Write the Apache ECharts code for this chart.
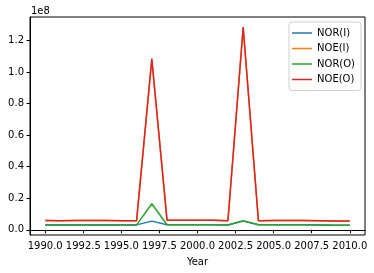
<!DOCTYPE html>
<html>
<head>
<meta charset="utf-8">
<script src="https://cdn.jsdelivr.net/npm/echarts@6/dist/echarts.min.js"></script>
<style>html,body{margin:0;padding:0;background:#fff}#c{width:374px;height:273px}</style>
</head>
<body>
<div id="c"></div>
<script>
const years = [1990,1991,1992,1993,1994,1995,1996,1997,1998,1999,2000,2001,2002,2003,2004,2005,2006,2007,2008,2009,2010];
const norI = [0.030,0.030,0.030,0.030,0.030,0.030,0.031,0.055,0.032,0.032,0.032,0.032,0.030,0.055,0.032,0.032,0.032,0.032,0.031,0.029,0.029];
const noeI = [0.059,0.058,0.059,0.059,0.059,0.058,0.058,1.075,0.060,0.060,0.060,0.060,0.057,1.280,0.058,0.059,0.059,0.059,0.058,0.055,0.055];
const norO = [0.030,0.030,0.030,0.030,0.030,0.030,0.031,0.165,0.032,0.032,0.032,0.032,0.030,0.057,0.032,0.032,0.032,0.032,0.031,0.029,0.029];
const noeO = [0.059,0.058,0.059,0.059,0.059,0.058,0.058,1.085,0.060,0.060,0.060,0.060,0.057,1.285,0.058,0.059,0.059,0.059,0.058,0.055,0.055];
const seriesNames = ['NOR(I)','NOE(I)','NOR(O)','NOE(O)'];
const colors = ['#1f77b4','#ff7f0e','#2ca02c','#d62728'];
const xTicks = [1990,1992.5,1995,1997.5,2000,2002.5,2005,2007.5,2010];
const yTicks = [0,0.2e8,0.4e8,0.6e8,0.8e8,1.0e8,1.2e8];
const scale = 1e8;

const font = 'DejaVu Sans';
const all = [norI,noeI,norO,noeO];
const chart = echarts.init(document.getElementById('c'), null, {renderer:'canvas'});
chart.setOption({
  animation:false,
  backgroundColor:'#fff',
  color:colors,
  textStyle:{fontFamily:font},
  grid:{left:30,right:9,top:17,bottom:38,show:true,borderColor:'#000',borderWidth:1,containLabel:false},
  graphic:[{type:'text',left:31,top:6,style:{text:'1e8',fontFamily:font,fontSize:10,fill:'#000'}}],
  legend:{
    orient:'vertical',right:13,top:22,
    data:seriesNames.map(n=>({name:n,icon:'rect'})),
    itemWidth:20,itemHeight:1.5,itemGap:3.5,
    padding:[5,6,5,3],
    borderColor:'#d0d0d0',borderWidth:1,borderRadius:3,
    backgroundColor:'rgba(255,255,255,0.8)',
    textStyle:{fontFamily:font,fontSize:10,color:'#000',lineHeight:12}
  },
  xAxis:{
    type:'value',min:1989,max:2011,
    name:'Year',nameLocation:'middle',nameGap:22,
    nameTextStyle:{fontFamily:font,fontSize:10,color:'#000'},
    splitLine:{show:false},
    axisLine:{show:true,lineStyle:{color:'#000',width:1}},
    axisTick:{show:true,length:3.5,lineStyle:{color:'#000'},customValues:xTicks},
    axisLabel:{fontFamily:font,fontSize:10,color:'#000',margin:6,customValues:xTicks,formatter:v=>v.toFixed(1)}
  },
  yAxis:{
    type:'value',min:-0.033e8,max:1.348e8,
    splitLine:{show:false},
    axisLine:{show:true,lineStyle:{color:'#000',width:1}},
    axisTick:{show:true,length:3.5,lineStyle:{color:'#000'},customValues:yTicks},
    axisLabel:{fontFamily:font,fontSize:10,color:'#000',margin:6,customValues:yTicks,formatter:v=>(v/1e8).toFixed(1)}
  },
  series:seriesNames.map((n,i)=>({
    name:n,type:'line',symbol:'none',showSymbol:false,
    lineStyle:{width:1.5,color:colors[i]},itemStyle:{color:colors[i]},
    data:years.map((y,j)=>[y,all[i][j]*scale])
  }))
});
</script>
</body>
</html>
